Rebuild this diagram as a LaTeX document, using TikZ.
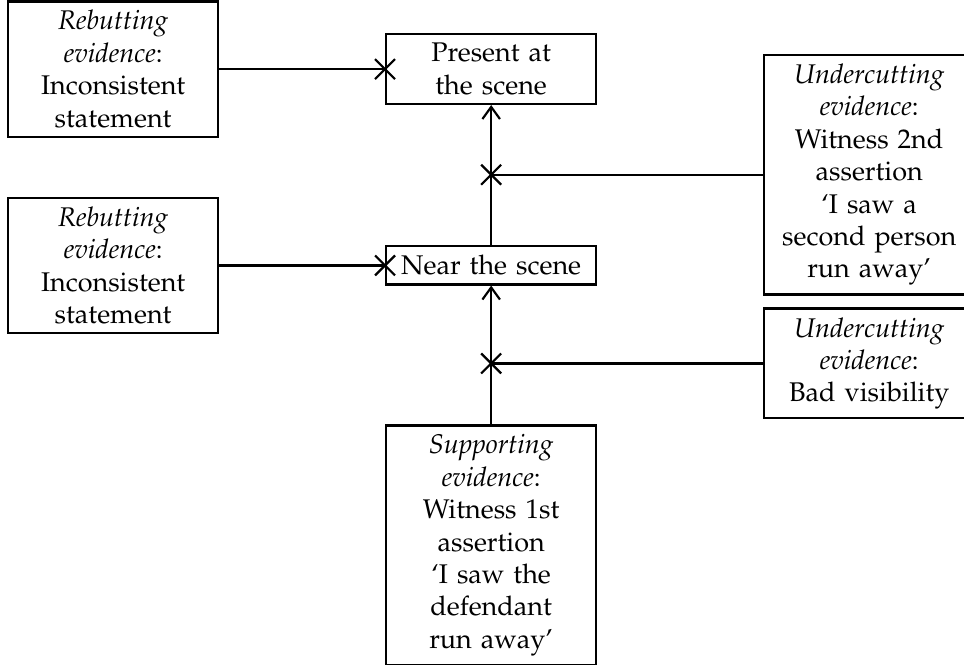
\documentclass[tikz,border=0pt]{standalone}
\usepackage[T1]{fontenc}
\usepackage{mathpazo}
\usetikzlibrary{
    arrows.meta,
    positioning
}
\pgfarrowsdeclare{cross}{cross}{\pgfarrowsleftextend{-3.7pt}\pgfarrowsrightextend{0pt}}{
    \pgfsetdash{}{0pt}
    \pgfpathmoveto{\pgfpoint{-3.7pt}{-3.7pt}}
    \pgfpathlineto{\pgfpoint{3.7pt}{3.7pt}}
    \pgfpathmoveto{\pgfpoint{-3.7pt}{3.7pt}}
    \pgfpathlineto{\pgfpoint{3.7pt}{-3.7pt}}
    \pgfusepathqstroke
}

\begin{document}
\begin{tikzpicture}[x=1pt, y=1pt,
        >={Straight Barb[length=4.5pt, width=6.5pt]},
        evid/.style={draw, thick, text width=2.5cm, align=center, inner sep=3.33pt},
        link/.style={thick}]
                        \useasboundingbox (0, 0) rectangle (357, -246);

                        \node[evid] (reb1) at (41.9, -25.6) {\textit{Rebutting}\\ \textit{evidence}:\\ Inconsistent\\ statement};
                        \node[evid] (present) at (181.9, -25.6) {Present at\\ the scene};
                        \node[evid] (reb2) at (41.9, -98.3) {\textit{Rebutting}\\ \textit{evidence}:\\ Inconsistent\\ statement};
                        \node[evid] (near) at (181.9, -98.3) {Near the scene};
                        \node[evid] (und1) at (321.9, -64.7) {\textit{Undercutting}\\ \textit{evidence}:\\ Witness 2nd\\ assertion\\ `I saw a\\ second person\\ run away'};
                        \node[evid] (und2) at (321.9, -134.6) {\textit{Undercutting}\\ \textit{evidence}:\\ Bad visibility};
                        \node[evid] (supp) at (181.9, -201.9) {\textit{Supporting}\\ \textit{evidence}:\\ Witness 1st\\ assertion\\ `I saw the\\ defendant\\ run away'};

                        \coordinate (j1) at (181.9, -64.7);
                        \coordinate (j2) at (181.9, -134.6);

                        \draw[link]
                        (reb1) edge[-cross] (present)
                        (reb2) edge[-cross] (near)
                        (near) edge[->] (present)
                        (supp) edge[->] (near)
                        (und1) edge[-cross] (j1)
                        (und2) edge[-cross] (j2);
                    \end{tikzpicture}
\end{document}
